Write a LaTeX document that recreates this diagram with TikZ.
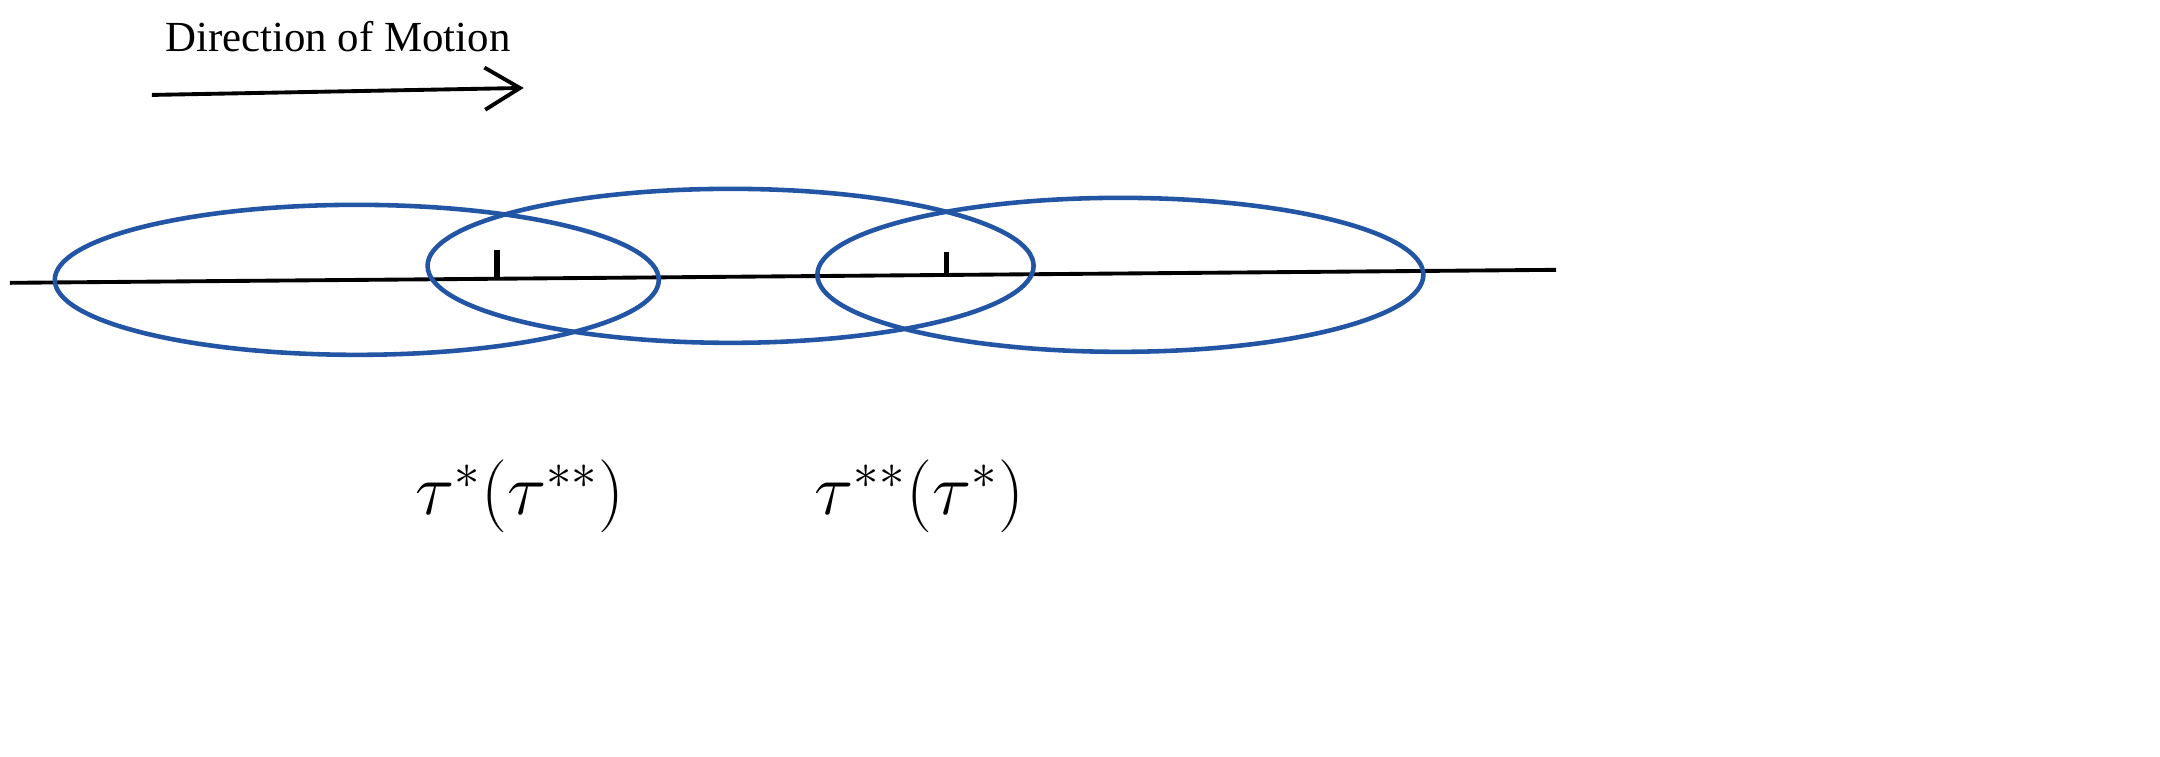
\documentclass[tikz,border=0pt]{standalone}
\usepackage{fontspec}
\setmainfont{Liberation Serif}
\usetikzlibrary{arrows.meta}
\definecolor{eblue}{RGB}{35,85,165}
\begin{document}
\begin{tikzpicture}[x=0.01cm,y=-0.01cm,
  ell/.style={draw=eblue,line width=1.3pt},
  blk/.style={draw=black,line width=1.1pt},
  lab/.style={font=\fontsize{20}{22}\selectfont}]
\clip (0cm,0cm) rectangle (21.6cm,-7.57cm);
\path[use as bounding box] (0cm,0cm) rectangle (21.6cm,-7.57cm);
\node[font=\fontsize{12.2}{14}\selectfont] (t) at (338,37) {Direction of Motion};
\coordinate (a1) at (152,95); \coordinate (a2) at (524,88);
\draw[blk,-{Straight Barb[length=10pt,width=12pt]}] (a1) -- (a2);
\coordinate (l1) at (10,283); \coordinate (l2) at (1557,270);
\draw[blk] (l1) -- (l2);
\draw[ell] (357,280) ellipse [x radius=3.02cm, y radius=0.75cm];
\draw[ell] (731,266) ellipse [x radius=3.03cm, y radius=0.77cm];
\draw[ell] (1121,275) ellipse [x radius=3.03cm, y radius=0.77cm];
\draw[blk,line width=1.6pt] (497,250) -- (497,279);
\draw[blk,line width=1.6pt] (947,252) -- (947,276);
\node[lab] (p1) at (520,497) {$\tau^{*}\!\left(\tau^{**}\vphantom{\bigg(}\right)$};
\node[lab] (p2) at (920,497) {$\tau^{**}\!\left(\tau^{*}\vphantom{\bigg(}\right)$};
\end{tikzpicture}
\end{document}
